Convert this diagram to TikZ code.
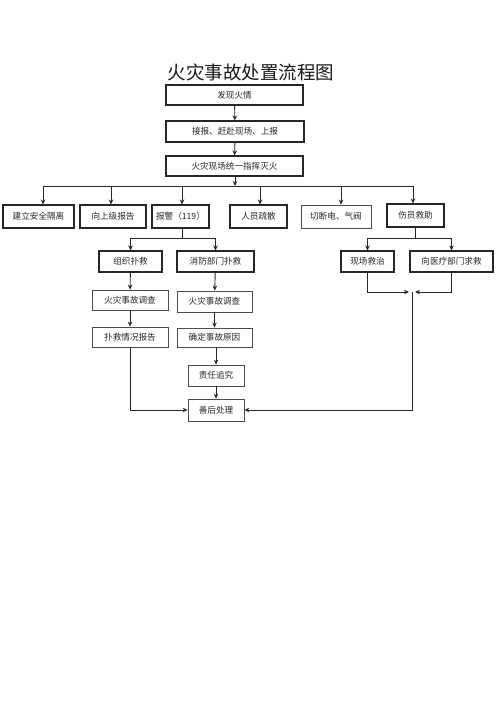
\documentclass[tikz,border=0pt]{standalone}
\usepackage{fontspec}
\setmainfont{Noto Sans CJK SC}
\usetikzlibrary{arrows.meta}
\tikzset{
  box/.style={draw=black!85, line width=1.1pt, inner sep=0pt, font=\fontsize{8.6}{9}\selectfont, text=black!85},
  lbox/.style={box, draw=black!70, line width=0.8pt},
  arr/.style={line width=0.9pt, draw=black!85, -{Stealth[length=5pt,width=4.5pt]}},
  ln/.style={line width=0.9pt, draw=black!85},
}
\begin{document}
\begin{tikzpicture}[x=1pt,y=-1pt]
\useasboundingbox[fill=white] (0,0) rectangle (500,706);
\node[font=\fontsize{18.5}{20}\selectfont, text=black!90] (title) at (251,72) {火灾事故处置流程图};
\node[box, minimum width=137, minimum height=20] (b1) at (234.5,95) {发现火情};
\node[box, minimum width=138, minimum height=21] (b2) at (235,131.5) {接报、赶赴现场、上报};
\node[box, minimum width=137, minimum height=20] (b3) at (234.5,166) {火灾现场统一指挥灭火};
% row
\node[box, minimum width=71, minimum height=23] (r1) at (38.5,216.5) {建立安全隔离};
\node[box, minimum width=66, minimum height=23] (r2) at (113,216.5) {向上级报告};
\node[box, minimum width=57, minimum height=23] (r3) at (180.5,216.5) {报警（119）};
\node[box, minimum width=57, minimum height=23] (r4) at (258.5,216.5) {人员疏散};
\node[lbox, minimum width=70, minimum height=23] (r5) at (336,216.5) {切断电、气阀};
\node[box, minimum width=57, minimum height=23] (r6) at (415.5,215.5) {伤员救助};
% second level
\node[box, minimum width=63, minimum height=21] (c1) at (130.5,261.5) {组织扑救};
\node[box, minimum width=77, minimum height=21] (c2) at (215.5,261.5) {消防部门扑救};
\node[box, minimum width=53, minimum height=21] (c3) at (367.5,261.5) {现场救治};
\node[box, minimum width=83, minimum height=21] (c4) at (451.5,261.5) {向医疗部门求救};
\node[lbox, minimum width=76, minimum height=20] (d1) at (130,300) {火灾事故调查};
\node[lbox, minimum width=75, minimum height=21] (d2) at (214.5,301.5) {火灾事故调查};
\node[lbox, minimum width=76, minimum height=20] (e1) at (130,337) {扑救情况报告};
\node[lbox, minimum width=75, minimum height=19] (e2) at (214.5,337.5) {确定事故原因};
\node[lbox, minimum width=56, minimum height=21] (f) at (216,375.5) {责任追究};
\node[lbox, minimum width=56, minimum height=22] (g) at (216,410) {善后处理};
% connectors top
\draw[arr] (b1) -- (b2);
\draw[arr] (b2) -- (b3);
\coordinate (busL) at (43,186);
\coordinate (busR) at (413,186);
\coordinate (busM) at (235,186);
\draw[ln] (busL) -- (busR);
\draw[arr] (b3.south -| busM) -- (busM);
\coordinate (j1) at (43,186);
\coordinate (j2) at (111,186);
\coordinate (j3) at (182,186);
\coordinate (j4) at (260,186);
\coordinate (j5) at (341,186);
\coordinate (j6) at (413,186);
\draw[arr] (j1) -- (j1 |- r1.north);
\draw[arr] (j2) -- (j2 |- r2.north);
\draw[arr] (j3) -- (j3 |- r3.north);
\draw[arr] (j4) -- (j4 |- r4.north);
\draw[arr] (j5) -- (j5 |- r5.north);
\draw[arr] (j6) -- (j6 |- r6.north);
% split under 报警
\coordinate (s1) at (182,238);
\draw[ln] (r3.south -| s1) -- (s1);
\draw[arr] (s1) -| (c1.north);
\draw[arr] (s1) -| (c2.north);
% split under 伤员救助
\coordinate (s2) at (415,238);
\draw[ln] (r6.south -| s2) -- (s2);
\draw[arr] (s2) -| (c3.north);
\draw[arr] (s2) -| (c4.north);
% left column
\draw[arr] (c1) -- (d1);
\draw[arr] (d1) -- (e1);
% right column
\draw[arr] (c2) -- (d2);
\draw[arr] (d2) -- (e2);
\draw[arr] (e2.south -| f.north) -- (f.north);
\draw[arr] (f) -- (g);
% merges
\draw[arr] (e1.south) |- (g.west);
\coordinate (m) at (412,292);
\draw[arr, shorten >=3pt] (c3.south) |- (m);
\draw[arr, shorten >=3pt] (c4.south) |- (m);
\draw[arr] (m) |- (g.east);
\end{tikzpicture}
\end{document}
